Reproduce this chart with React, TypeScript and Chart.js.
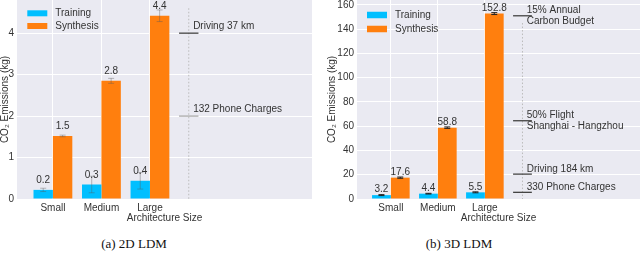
import React, { useEffect, useRef } from 'react';
import { Chart, registerables } from 'chart.js';

Chart.register(...registerables);

// ---------- shared ----------
const categories = ['Small', 'Medium', 'Large'];
const seriesNames = ['Training', 'Synthesis'];
const seriesColors = ['#00BFFF', '#FF7F0E'];
const xTitle = 'Architecture Size';
const yTitle = 'CO\u2082 Emissions (kg)';

// ---------- (a) 2D LDM ----------
const training2D = [0.22, 0.35, 0.44];
const synthesis2D = [1.52, 2.85, 4.42];
const trainingErr2D = [0.04, 0.2, 0.2];
const synthesisErr2D = [0.02, 0.06, 0.14];
const trainingLabels2D = ['0.2', '0.3', '0.4'];
const synthesisLabels2D = ['1.5', '2.8', '4.4'];
const yTicks2D = [0, 1, 2, 3, 4];
const refValues2D = [4, 2];
const refLabels2D = [['Driving 37 km'], ['132 Phone Charges']];
const caption2D = '(a) 2D LDM';

// ---------- (b) 3D LDM ----------
const training3D = [3.2, 4.4, 5.5];
const synthesis3D = [17.6, 58.8, 152.8];
const trainingErr3D = [0.4, 0.3, 0.4];
const synthesisErr3D = [0.5, 0.6, 0.8];
const trainingLabels3D = ['3.2', '4.4', '5.5'];
const synthesisLabels3D = ['17.6', '58.8', '152.8'];
const yTicks3D = [0, 20, 40, 60, 80, 100, 120, 140, 160];
const refValues3D = [151, 64.5, 20.5, 5.5];
const refLabels3D = [
  ['15% Annual', 'Carbon Budget'],
  ['50% Flight', 'Shanghai - Hangzhou'],
  ['Driving 184 km'],
  ['330 Phone Charges'],
];
const caption3D = '(b) 3D LDM';

const FONT = "'Liberation Sans', Arial, sans-serif";
const TEXT = '#333333';

type Panel = {
  training: number[];
  synthesis: number[];
  trainingErr: number[];
  synthesisErr: number[];
  trainingLabels: string[];
  synthesisLabels: string[];
  yTicks: number[];
  yMax: number;
  xMin: number;
  xMax: number;
  refValues: number[];
  refLabels: string[][];
  refColors: string[];
  vlineTop: number;
  singleShift: number;
  labelOffset: number;
  errColor: string;
  yAxisWidth: number;
  yTitlePad: number;
  padRight: number;
  legend: { dx: number; y0: number; gap: number; boxH: number };
};

const panel2D: Panel = {
  training: training2D,
  synthesis: synthesis2D,
  trainingErr: trainingErr2D,
  synthesisErr: synthesisErr2D,
  trainingLabels: trainingLabels2D,
  synthesisLabels: synthesisLabels2D,
  yTicks: yTicks2D,
  yMax: 4.8,
  xMin: -0.74,
  xMax: 5.34,
  refValues: refValues2D,
  refLabels: refLabels2D,
  refColors: ['#444444', '#aaaaaa'],
  vlineTop: 4.6,
  singleShift: -7,
  labelOffset: 9.5,
  errColor: 'rgba(90,90,90,0.4)',
  yAxisWidth: 17,
  yTitlePad: 0,
  padRight: 8,
  legend: { dx: 10.3, y0: 13.3, gap: 12.7, boxH: 6 },
};

const panel3D: Panel = {
  training: training3D,
  synthesis: synthesis3D,
  trainingErr: trainingErr3D,
  synthesisErr: synthesisErr3D,
  trainingLabels: trainingLabels3D,
  synthesisLabels: synthesisLabels3D,
  yTicks: yTicks3D,
  yMax: 164,
  xMin: -0.72,
  xMax: 5.3,
  refValues: refValues3D,
  refLabels: refLabels3D,
  refColors: ['#444444', '#444444', '#444444', '#444444'],
  vlineTop: 145,
  singleShift: -5,
  labelOffset: 5.5,
  errColor: '#222222',
  yAxisWidth: 37,
  yTitlePad: 7.5,
  padRight: 0,
  legend: { dx: 10, y0: 15, gap: 14, boxH: 6.5 },
};

function makeChart(canvas: HTMLCanvasElement, p: Panel) {
  const bgPlugin = {
    id: 'bgFill',
    beforeDraw(chart: any) {
      const { ctx, chartArea: a } = chart;
      ctx.save();
      ctx.fillStyle = '#EAEAF2';
      ctx.fillRect(a.left, a.top, a.right - a.left, a.bottom - a.top);
      ctx.restore();
    },
  };

  const refPlugin = {
    id: 'refLines',
    afterDatasetsDraw(chart: any) {
      const { ctx } = chart;
      const xs = chart.scales.x;
      const ys = chart.scales.y;
      ctx.save();
      const vx = xs.getPixelForValue(2.8);
      ctx.strokeStyle = '#bbbbbb';
      ctx.lineWidth = 1;
      ctx.setLineDash([1.5, 2]);
      ctx.beginPath();
      ctx.moveTo(vx, ys.getPixelForValue(p.vlineTop));
      ctx.lineTo(vx, ys.getPixelForValue(0));
      ctx.stroke();
      ctx.setLineDash([]);
      const x0 = xs.getPixelForValue(2.6);
      const x1 = xs.getPixelForValue(3.0);
      const xt = xs.getPixelForValue(2.89);
      ctx.font = `10px ${FONT}`;
      ctx.textAlign = 'left';
      ctx.textBaseline = 'middle';
      p.refValues.forEach((v, i) => {
        const yy = ys.getPixelForValue(v);
        ctx.strokeStyle = p.refColors[i];
        ctx.lineWidth = 1.3;
        ctx.beginPath();
        ctx.moveTo(x0, yy);
        ctx.lineTo(x1, yy);
        ctx.stroke();
        const lines = p.refLabels[i];
        const lh = 10.5;
        const center = lines.length === 1 ? yy + p.singleShift : yy;
        const start = center - ((lines.length - 1) * lh) / 2;
        ctx.fillStyle = TEXT;
        lines.forEach((t, k) => ctx.fillText(t, xt, start + k * lh));
      });
      ctx.restore();
    },
  };

  const errPlugin = {
    id: 'errBars',
    afterDatasetsDraw(chart: any) {
      const { ctx } = chart;
      const ys = chart.scales.y;
      ctx.save();
      ctx.strokeStyle = p.errColor;
      ctx.lineWidth = 1;
      chart.data.datasets.forEach((ds: any, di: number) => {
        const meta = chart.getDatasetMeta(di);
        meta.data.forEach((el: any, i: number) => {
          const v = ds.data[i].y;
          const e = ds.errors[i];
          const yt = ys.getPixelForValue(v + e);
          const yb = ys.getPixelForValue(v - e);
          const cap = 3;
          ctx.beginPath();
          ctx.moveTo(el.x, yt);
          ctx.lineTo(el.x, yb);
          ctx.moveTo(el.x - cap, yt);
          ctx.lineTo(el.x + cap, yt);
          ctx.moveTo(el.x - cap, yb);
          ctx.lineTo(el.x + cap, yb);
          ctx.stroke();
        });
      });
      ctx.restore();
    },
  };

  const labelPlugin = {
    id: 'valLabels',
    afterDatasetsDraw(chart: any) {
      const { ctx } = chart;
      ctx.save();
      ctx.font = `10px ${FONT}`;
      ctx.fillStyle = TEXT;
      ctx.textAlign = 'center';
      ctx.textBaseline = 'middle';
      chart.data.datasets.forEach((ds: any, di: number) => {
        const meta = chart.getDatasetMeta(di);
        meta.data.forEach((el: any, i: number) => {
          ctx.fillText(ds.valueLabels[i], el.x, el.y - p.labelOffset);
        });
      });
      ctx.restore();
    },
  };

  const legendPlugin = {
    id: 'innerLegend',
    afterDraw(chart: any) {
      const { ctx, chartArea: a } = chart;
      ctx.save();
      ctx.font = `10px ${FONT}`;
      ctx.textAlign = 'left';
      ctx.textBaseline = 'middle';
      chart.data.datasets.forEach((ds: any, i: number) => {
        const cy = a.top + p.legend.y0 + i * p.legend.gap;
        const bx = a.left + p.legend.dx;
        ctx.fillStyle = ds.backgroundColor;
        ctx.fillRect(bx, cy - p.legend.boxH / 2, 20, p.legend.boxH);
        ctx.fillStyle = TEXT;
        ctx.fillText(ds.label, bx + 28, cy);
      });
      ctx.restore();
    },
  };

  return new Chart(canvas, {
    type: 'bar',
    data: {
      datasets: [
        {
          label: seriesNames[0],
          data: p.training.map((v, i) => ({ x: i, y: v })),
          backgroundColor: seriesColors[0],
          borderWidth: 0,
          categoryPercentage: 0.8,
          barPercentage: 1,
          errors: p.trainingErr,
          valueLabels: p.trainingLabels,
        } as any,
        {
          label: seriesNames[1],
          data: p.synthesis.map((v, i) => ({ x: i, y: v })),
          backgroundColor: seriesColors[1],
          borderWidth: 0,
          categoryPercentage: 0.8,
          barPercentage: 1,
          errors: p.synthesisErr,
          valueLabels: p.synthesisLabels,
        } as any,
      ],
    },
    options: {
      responsive: false,
      animation: false,
      devicePixelRatio: 1,
      layout: { padding: { left: 0, right: p.padRight, top: 0, bottom: 0 } },
      plugins: {
        legend: { display: false },
        tooltip: { enabled: false },
      },
      scales: {
        x: {
          type: 'linear',
          min: p.xMin,
          max: p.xMax,
          offset: false,
          grid: { color: '#ffffff', lineWidth: 1, drawTicks: false, offset: false },
          border: { display: false },
          afterBuildTicks: (s: any) => {
            s.ticks = categories.map((_, i) => ({ value: i }));
          },
          afterFit: (s: any) => {
            s.height = 26;
            s.paddingLeft = 0;
            s.paddingRight = 0;
          },
          ticks: {
            autoSkip: false,
            maxRotation: 0,
            padding: 3,
            color: TEXT,
            font: { family: FONT, size: 10 },
            callback: (v: any) => categories[v] ?? '',
          },
          title: {
            display: true,
            text: xTitle,
            color: TEXT,
            font: { family: FONT, size: 10, lineHeight: 1.2 },
            padding: { top: 0, bottom: 1 },
          },
        },
        y: {
          type: 'linear',
          min: 0,
          max: p.yMax,
          grid: { color: '#ffffff', lineWidth: 1, drawTicks: false },
          border: { display: false },
          afterBuildTicks: (s: any) => {
            s.ticks = p.yTicks.map((v) => ({ value: v }));
          },
          afterFit: (s: any) => {
            s.width = p.yAxisWidth;
            s.paddingTop = 0;
            s.paddingBottom = 0;
          },
          ticks: {
            padding: 3,
            color: TEXT,
            font: { family: FONT, size: 10 },
          },
          title: {
            display: true,
            text: yTitle,
            color: TEXT,
            font: { family: FONT, size: 10, lineHeight: 1.0 },
            padding: { top: p.yTitlePad, bottom: 0 },
          },
        },
      },
    } as any,
    plugins: [bgPlugin, refPlugin, errPlugin, labelPlugin, legendPlugin] as any,
  });
}

function ChartPanel({ panel, left }: { panel: Panel; left: number }) {
  const ref = useRef<HTMLCanvasElement | null>(null);
  useEffect(() => {
    if (!ref.current) return;
    const chart = makeChart(ref.current, panel);
    return () => chart.destroy();
  }, [panel]);
  return (
    <canvas
      ref={ref}
      width={320}
      height={225}
      style={{ position: 'absolute', left, top: 0, width: 320, height: 225 }}
    />
  );
}

const captionStyle: React.CSSProperties = {
  position: 'absolute',
  top: 236,
  width: 200,
  textAlign: 'center',
  fontFamily: "'Liberation Serif', 'Times New Roman', serif",
  fontSize: 13,
  lineHeight: '16px',
  color: '#111',
};

export default function App() {
  return (
    <div
      style={{
        position: 'absolute',
        left: 0,
        top: 0,
        width: 640,
        height: 255,
        background: '#ffffff',
        overflow: 'hidden',
      }}
    >
      <ChartPanel panel={panel2D} left={0} />
      <ChartPanel panel={panel3D} left={320} />
      <div style={{ ...captionStyle, left: 34 }}>{caption2D}</div>
      <div style={{ ...captionStyle, left: 359 }}>{caption3D}</div>
    </div>
  );
}
